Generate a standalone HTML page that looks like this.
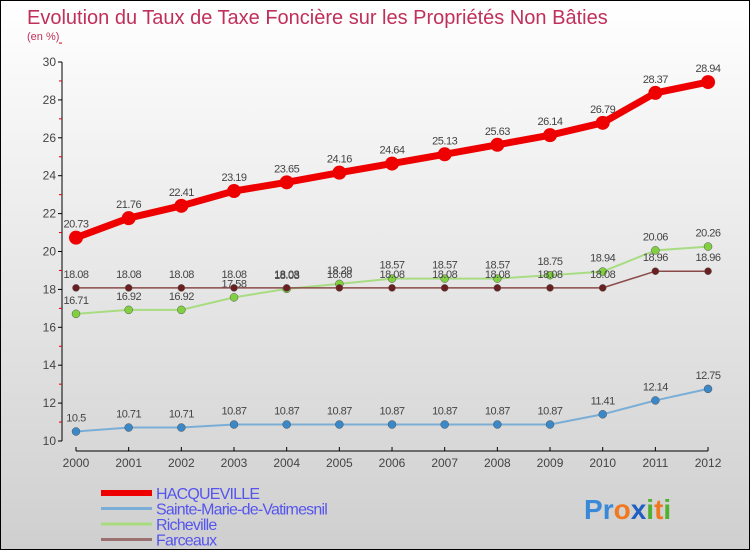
<!DOCTYPE html>
<html><head><meta charset="utf-8">
<style>
body{margin:0;}
#c{width:750px;height:550px;position:relative;box-sizing:border-box;border:1px solid #000;background:linear-gradient(#ffffff,#cfcfcf);font-family:"Liberation Sans",sans-serif;overflow:hidden;}
svg{position:absolute;left:0;top:0}
</style></head><body>
<div id="c">
<svg id="s" width="750" height="550">
<text x="26" y="23" font-size="20" fill="#c0305a">Evolution du Taux de Taxe Foncière sur les Propriétés Non Bâties</text>
<text x="26" y="39" font-size="11" fill="#c0305a">(en %)</text>
</svg>
</div>
<script>
const years=[2000,2001,2002,2003,2004,2005,2006,2007,2008,2009,2010,2011,2012];
const hacq=[20.73,21.76,22.41,23.19,23.65,24.16,24.64,25.13,25.63,26.14,26.79,28.37,28.94];
const sainte=[10.5,10.71,10.71,10.87,10.87,10.87,10.87,10.87,10.87,10.87,11.41,12.14,12.75];
const riche=[16.71,16.92,16.92,17.58,18.03,18.29,18.57,18.57,18.57,18.75,18.94,20.06,20.26];
const farce=[18.08,18.08,18.08,18.08,18.08,18.08,18.08,18.08,18.08,18.08,18.08,18.96,18.96];
const yTicks=[10,12,14,16,18,20,22,24,26,28,30];
const s=document.getElementById('s');const NS='http://www.w3.org/2000/svg';
const X=i=>75+i*52.67, Y=v=>440-(v-10)*18.95;
function mk(t,a,p){const e=document.createElementNS(NS,t);for(const k in a)e.setAttribute(k,a[k]);(p||s).appendChild(e);return e;}
let e;
e=mk('line',{x1:61,y1:61,x2:61,y2:440,stroke:'#000','stroke-width':1});


e=mk('line',{x1:75,y1:450,x2:707,y2:450,stroke:'#000','stroke-width':1});


yTicks.forEach(v=>{mk('line',{x1:57,y1:Y(v),x2:61,y2:Y(v),stroke:'#000'});
 mk('line',{x1:58,y1:Y(v+1),x2:61,y2:Y(v+1),stroke:'#d00'});
 e=mk('text',{x:55,y:Y(v)+4,'font-size':12,fill:'#444','text-anchor':'end'});e.textContent=v;
 
 });
years.forEach((y,i)=>{mk('line',{x1:X(i),y1:446,x2:X(i),y2:450,stroke:'#000'});
 e=mk('text',{x:X(i),y:466,'font-size':12,fill:'#444','text-anchor':'middle'});e.textContent=y;
 
 });
function series(vals,col,w,r,dot,name){
 const g=mk('g',{});
 
 
 e=mk('polyline',{points:vals.map((v,i)=>X(i)+','+Y(v)).join(' '),fill:'none',stroke:col,'stroke-width':w},g);
 
 
 vals.forEach((v,i)=>{e=mk('circle',{cx:X(i),cy:Y(v),r:r,fill:dot,stroke:'#555','stroke-width':r>5?0:0.5},g);
  
  
  e=mk('text',{x:X(i),y:Y(v)-10,'font-size':11,fill:'#444','text-anchor':'middle','letter-spacing':'-0.5'},g);e.textContent=v;
  
  });
}
series(sainte,'#7aaed6',2,4,'#3a88c8','sainte-marie-series');
series(riche,'#a8dc80',2,4,'#80d040','richeville-series');
series(farce,'#8a4a4a',1.5,3.5,'#6a2020','farceaux-series');
series(hacq,'#ee0000',7,7,'#ee0000','hacqueville-series');
const leg=[['HACQUEVILLE','#ee0000',6],['Sainte-Marie-de-Vatimesnil','#7aaed6',3],['Richeville','#a8dc80',3],['Farceaux','#9a7070',3]];
leg.forEach((l,i)=>{const y=492+i*15.5;
 e=mk('line',{x1:100,y1:y,x2:151,y2:y,stroke:l[1],'stroke-width':l[2]});
 
 
 e=mk('text',{x:155,y:y+6,'font-size':16,fill:'#5555ee','letter-spacing':'-0.8'});e.textContent=l[0];
 
 });
const lg=[['P','#3a88d8'],['r','#3a88d8'],['o','#f07820'],['x','#2060c0'],['i','#50b030'],['t','#f07820'],['i','#50b030']];
e=mk('text',{x:583,y:518,'font-size':28,'font-weight':'bold'});


lg.forEach(c=>{const t=mk('tspan',{fill:c[1]},e);t.textContent=c[0];});
</script>
</body></html>
